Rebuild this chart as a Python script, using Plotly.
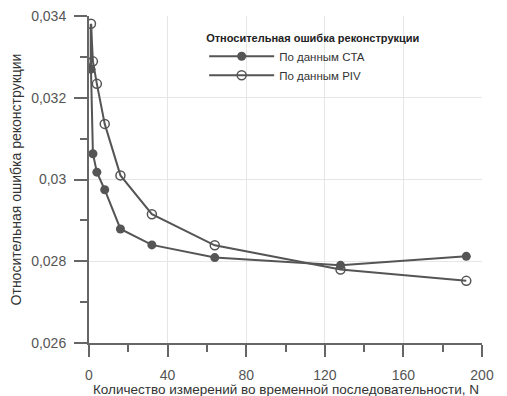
import plotly.graph_objects as go

# Data
n_cta = [1, 1, 2, 4, 8, 16, 32, 64, 128, 192]
err_cta = [0.0338, 0.0327, 0.03063, 0.03018, 0.02975, 0.02879, 0.0284, 0.02809, 0.0279, 0.02812]

n_piv = [1, 2, 4, 8, 16, 32, 64, 128, 192]
err_piv = [0.03381, 0.03289, 0.03234, 0.03136, 0.0301, 0.02915, 0.02839, 0.0278, 0.02752]

x_ticks = [0, 40, 80, 120, 160, 200]
y_ticks = [0.026, 0.028, 0.030, 0.032, 0.034]

legend_title = "Относительная ошибка реконструкции"
name_cta = "По данным CTA"
name_piv = "По данным PIV"
x_title = "Количество измерений во временной последовательности, N"
y_title = "Относительная ошибка реконструкции"

line_color = "#555555"
font_family = "Liberation Sans, Arial, sans-serif"

fig = go.Figure()
# leading vertical segment of the CTA curve (no marker at its first point)
fig.add_trace(go.Scatter(
    x=n_cta[:2], y=err_cta[:2], mode="lines", showlegend=False, hoverinfo="skip",
    line=dict(color=line_color, width=2.5),
))
fig.add_trace(go.Scatter(
    x=n_cta[1:], y=err_cta[1:], mode="lines+markers", name=name_cta,
    line=dict(color=line_color, width=2),
    marker=dict(symbol="circle", size=9, color=line_color),
))
fig.add_trace(go.Scatter(
    x=n_piv, y=err_piv, mode="lines+markers", name=name_piv,
    line=dict(color=line_color, width=2),
    marker=dict(symbol="circle-open", size=9, color=line_color, line=dict(width=1.5)),
))

axis_common = dict(
    showline=True, linecolor="#666666", linewidth=2,
    ticks="outside", tickcolor="#666666", tickwidth=2,
    showgrid=True, gridcolor="#e6e6e6", gridwidth=1,
    zeroline=False, mirror=False, automargin=False,
    ticklabeloverflow="allow",
    tickfont=dict(family=font_family, size=14, color="#555555"),
)

fig.update_xaxes(
    range=[0, 200], tickvals=x_ticks, ticklen=12, ticklabelstandoff=6,
    minor=dict(dtick=20, ticklen=7, tickwidth=1.5, tickcolor="#666666", showgrid=False),
    **axis_common,
)
fig.update_yaxes(
    range=[0.026, 0.034], tickvals=y_ticks, ticklen=13, ticklabelstandoff=5,
    minor=dict(dtick=0.001, ticklen=7, tickwidth=1.5, tickcolor="#666666", showgrid=False),
    title=dict(text=y_title, font=dict(family=font_family, size=14, color="#333333"), standoff=8),
    **axis_common,
)

# x-axis title placed explicitly below the tick labels
fig.add_annotation(
    text=x_title, xref="paper", yref="paper", x=0.5, y=-0.143,
    xanchor="center", yanchor="middle", showarrow=False,
    font=dict(family=font_family, size=13.5, color="#333333"),
)

# the page body has an 8px default margin, so the figure is drawn 8px smaller
fig.update_layout(
    width=499, height=388,
    margin=dict(l=81, r=25, t=8, b=53),
    paper_bgcolor="white", plot_bgcolor="white",
    separators=", ",
    font=dict(family=font_family, size=12, color="#333333"),
    legend=dict(
        title=dict(text="<b>" + legend_title + "</b>", side="top",
                   font=dict(family=font_family, size=11, color="#222222")),
        x=0.293, y=0.965, xanchor="left", yanchor="top",
        bgcolor="rgba(255,255,255,0)",
        font=dict(family=font_family, size=11.5, color="#333333"),
        itemwidth=65, tracegroupgap=0,
    ),
    showlegend=True,
)

fig.write_html("out.html")
